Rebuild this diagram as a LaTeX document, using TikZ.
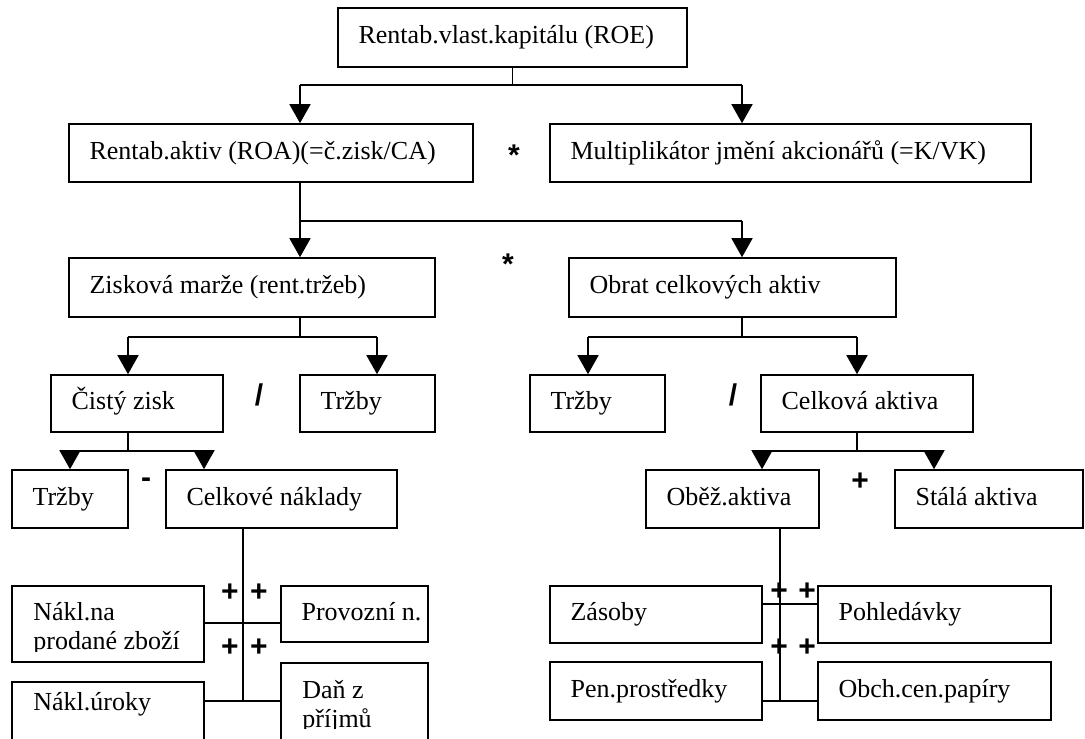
\documentclass[tikz,border=0pt]{standalone}
\usepackage{fontspec}
\setmainfont{Liberation Serif}
\newfontfamily\opfont{Liberation Sans}
\usetikzlibrary{arrows.meta,calc}

\tikzset{
  box/.style={draw, line width=0.8pt, rectangle, inner sep=0pt},
  lbl/.style={anchor=base west, inner sep=0pt, font=\fontsize{13pt}{14.5pt}\selectfont},
  op/.style={inner sep=0pt, font=\opfont\bfseries\fontsize{15pt}{15pt}\selectfont},
  link/.style={line width=0.8pt},
  arr/.style={link, -{Triangle[length=9.5pt,width=10.5pt]}},
}

% \bx{name}{x1}{y1}{x2}{y2}{text}: a box with its text set at the left
\newcommand\bx[6]{%
  \node[box, minimum width={(#4-#2)*0.5pt}, minimum height={(#5-#3)*0.5pt}]
    (#1) at ({(#2+#4)/2},{(#3+#5)/2}) {};
  \node[lbl] (#1-t) at ($(#1.west)+(21,6)$) {#6};}
% \bxe{name}{x1}{y1}{x2}{y2}: an empty box
\newcommand\bxe[5]{%
  \node[box, minimum width={(#4-#2)*0.5pt}, minimum height={(#5-#3)*0.5pt}]
    (#1) at ({(#2+#4)/2},{(#3+#5)/2}) {};}

\begin{document}
\begin{tikzpicture}[x=0.5pt, y=-0.5pt]
\useasboundingbox (0,0) rectangle (1085,738);
\clip (0,0) rectangle (1085,738);

% ---- boxes ----
\bx{roe}{338}{8}{687}{67}{Rentab.vlast.kapitálu (ROE)}
\bx{roa}{69}{124}{473}{182}{Rentab.aktiv (ROA)(=č.zisk/CA)}
\bx{mult}{550}{124}{1031}{182}{Multiplikátor jmění akcionářů (=K/VK)}
\bx{marze}{69}{258}{435}{317}{Zisková marže (rent.tržeb)}
\bx{obrat}{569}{258}{896}{317}{Obrat celkových aktiv}
\bx{zisk}{51}{375}{223}{432}{Čistý zisk}
\bx{trzA}{300}{375}{435}{432}{Tržby}
\bx{trzB}{530}{375}{665}{432}{Tržby}
\bx{ca}{761}{375}{973}{432}{Celková aktiva}
\bx{trzC}{12}{470}{128}{528}{Tržby}
\bx{nakl}{166}{470}{397}{528}{Celkové náklady}
\bx{oa}{646}{470}{819}{528}{Oběž.aktiva}
\bx{sa}{895}{470}{1083}{528}{Stálá aktiva}
\bx{prov}{281}{586}{428}{642}{Provozní n.}
\bx{zas}{550}{586}{762}{643}{Zásoby}
\bx{pohl}{818}{586}{1051}{643}{Pohledávky}
\bx{pen}{550}{662}{762}{720}{Pen.prostředky}
\bx{obch}{818}{662}{1051}{720}{Obch.cen.papíry}

\bxe{nzb}{12}{586}{204}{662}
\begin{scope}
  \clip (12,586) rectangle (204,651);
  \node[lbl] (nzb-t1) at (33,620) {Nákl.na};
  \node[lbl] (nzb-t2) at (33,649) {prodané zboží};
\end{scope}

\bxe{uroky}{12}{682}{204}{760}
\node[lbl] (uroky-t) at (33,710) {Nákl.úroky};

\bxe{dan}{281}{663}{428}{760}
\begin{scope}
  \clip (281,663) rectangle (428,728);
  \node[lbl] (dan-t1) at (302,698) {Daň z};
  \node[lbl] (dan-t2) at (302,727) {příjmů};
\end{scope}

% ---- operators ----
\node[op] (opA) at (514,155) {*};
\node[op] (opB) at (508,264) {*};
\node[op] (opC) at (259,395) {/};
\node[op] (opD) at (733,395) {/};
\node[op] (opE) at (146,483) {-};
\node[op] (opF) at (860,482) {+};
\node[op] (opG1) at (230,593) {+};
\node[op] (opG2) at (259,593) {+};
\node[op] (opG3) at (230,648) {+};
\node[op] (opG4) at (259,648) {+};
\node[op] (opH1) at (779,592) {+};
\node[op] (opH2) at (807,592) {+};
\node[op] (opH3) at (779,648) {+};
\node[op] (opH4) at (807,648) {+};

% ---- connectors ----
% ROE splits into ROA and the multiplier
\coordinate (b1l) at (300,85);
\coordinate (b1r) at (742,85);
\draw[link] (roe.south) -- (roe.south |- b1l);
\draw[link] (b1l) -- (b1r);
\draw[arr] (b1l) -- (b1l |- roa.north);
\draw[arr] (b1r) -- (b1r |- mult.north);

% ROA splits into margin and asset turnover
\coordinate (b2l) at (300,221);
\coordinate (b2r) at (742,221);
\draw[link] (b2l |- roa.south) -- (b2l) -- (b2r);
\draw[arr] (b2l) -- (b2l |- marze.north);
\draw[arr] (b2r) -- (b2r |- obrat.north);

% margin
\coordinate (b3s) at (300,337);
\coordinate (b3l) at (128,337);
\coordinate (b3r) at (377,337);
\draw[link] (b3s |- marze.south) -- (b3s);
\draw[link] (b3l) -- (b3r);
\draw[arr] (b3l) -- (b3l |- zisk.north);
\draw[arr] (b3r) -- (b3r |- trzA.north);

% asset turnover
\coordinate (b4s) at (742,337);
\coordinate (b4l) at (588,337);
\coordinate (b4r) at (857,337);
\draw[link] (b4s |- obrat.south) -- (b4s);
\draw[link] (b4l) -- (b4r);
\draw[arr] (b4l) -- (b4l |- trzB.north);
\draw[arr] (b4r) -- (b4r |- ca.north);

% net profit
\coordinate (b5s) at (128,451);
\coordinate (b5l) at (70,451);
\coordinate (b5r) at (204,451);
\draw[link] (b5s |- zisk.south) -- (b5s);
\draw[link] (b5l) -- (b5r);
\draw[arr] (b5l) -- (b5l |- trzC.north);
\draw[arr] (b5r) -- (b5r |- nakl.north);

% total assets
\coordinate (b6s) at (857,451);
\coordinate (b6l) at (762,451);
\coordinate (b6r) at (934,451);
\draw[link] (b6s |- ca.south) -- (b6s);
\draw[link] (b6l) -- (b6r);
\draw[arr] (b6l) -- (b6l |- oa.north);
\draw[arr] (b6r) -- (b6r |- sa.north);

% total costs
\coordinate (s1) at (243,701);
\coordinate (r1) at (243,623);
\draw[link] (s1 |- nakl.south) -- (s1);
\draw[link] (nzb.east |- r1) -- (prov.west |- r1);
\draw[link] (uroky.east |- s1) -- (dan.west |- s1);

% current assets
\coordinate (s2) at (780,701);
\coordinate (r2) at (780,604);
\draw[link] (s2 |- oa.south) -- (s2);
\draw[link] (zas.east |- r2) -- (pohl.west |- r2);
\draw[link] (pen.east |- s2) -- (obch.west |- s2);
\end{tikzpicture}
\end{document}
